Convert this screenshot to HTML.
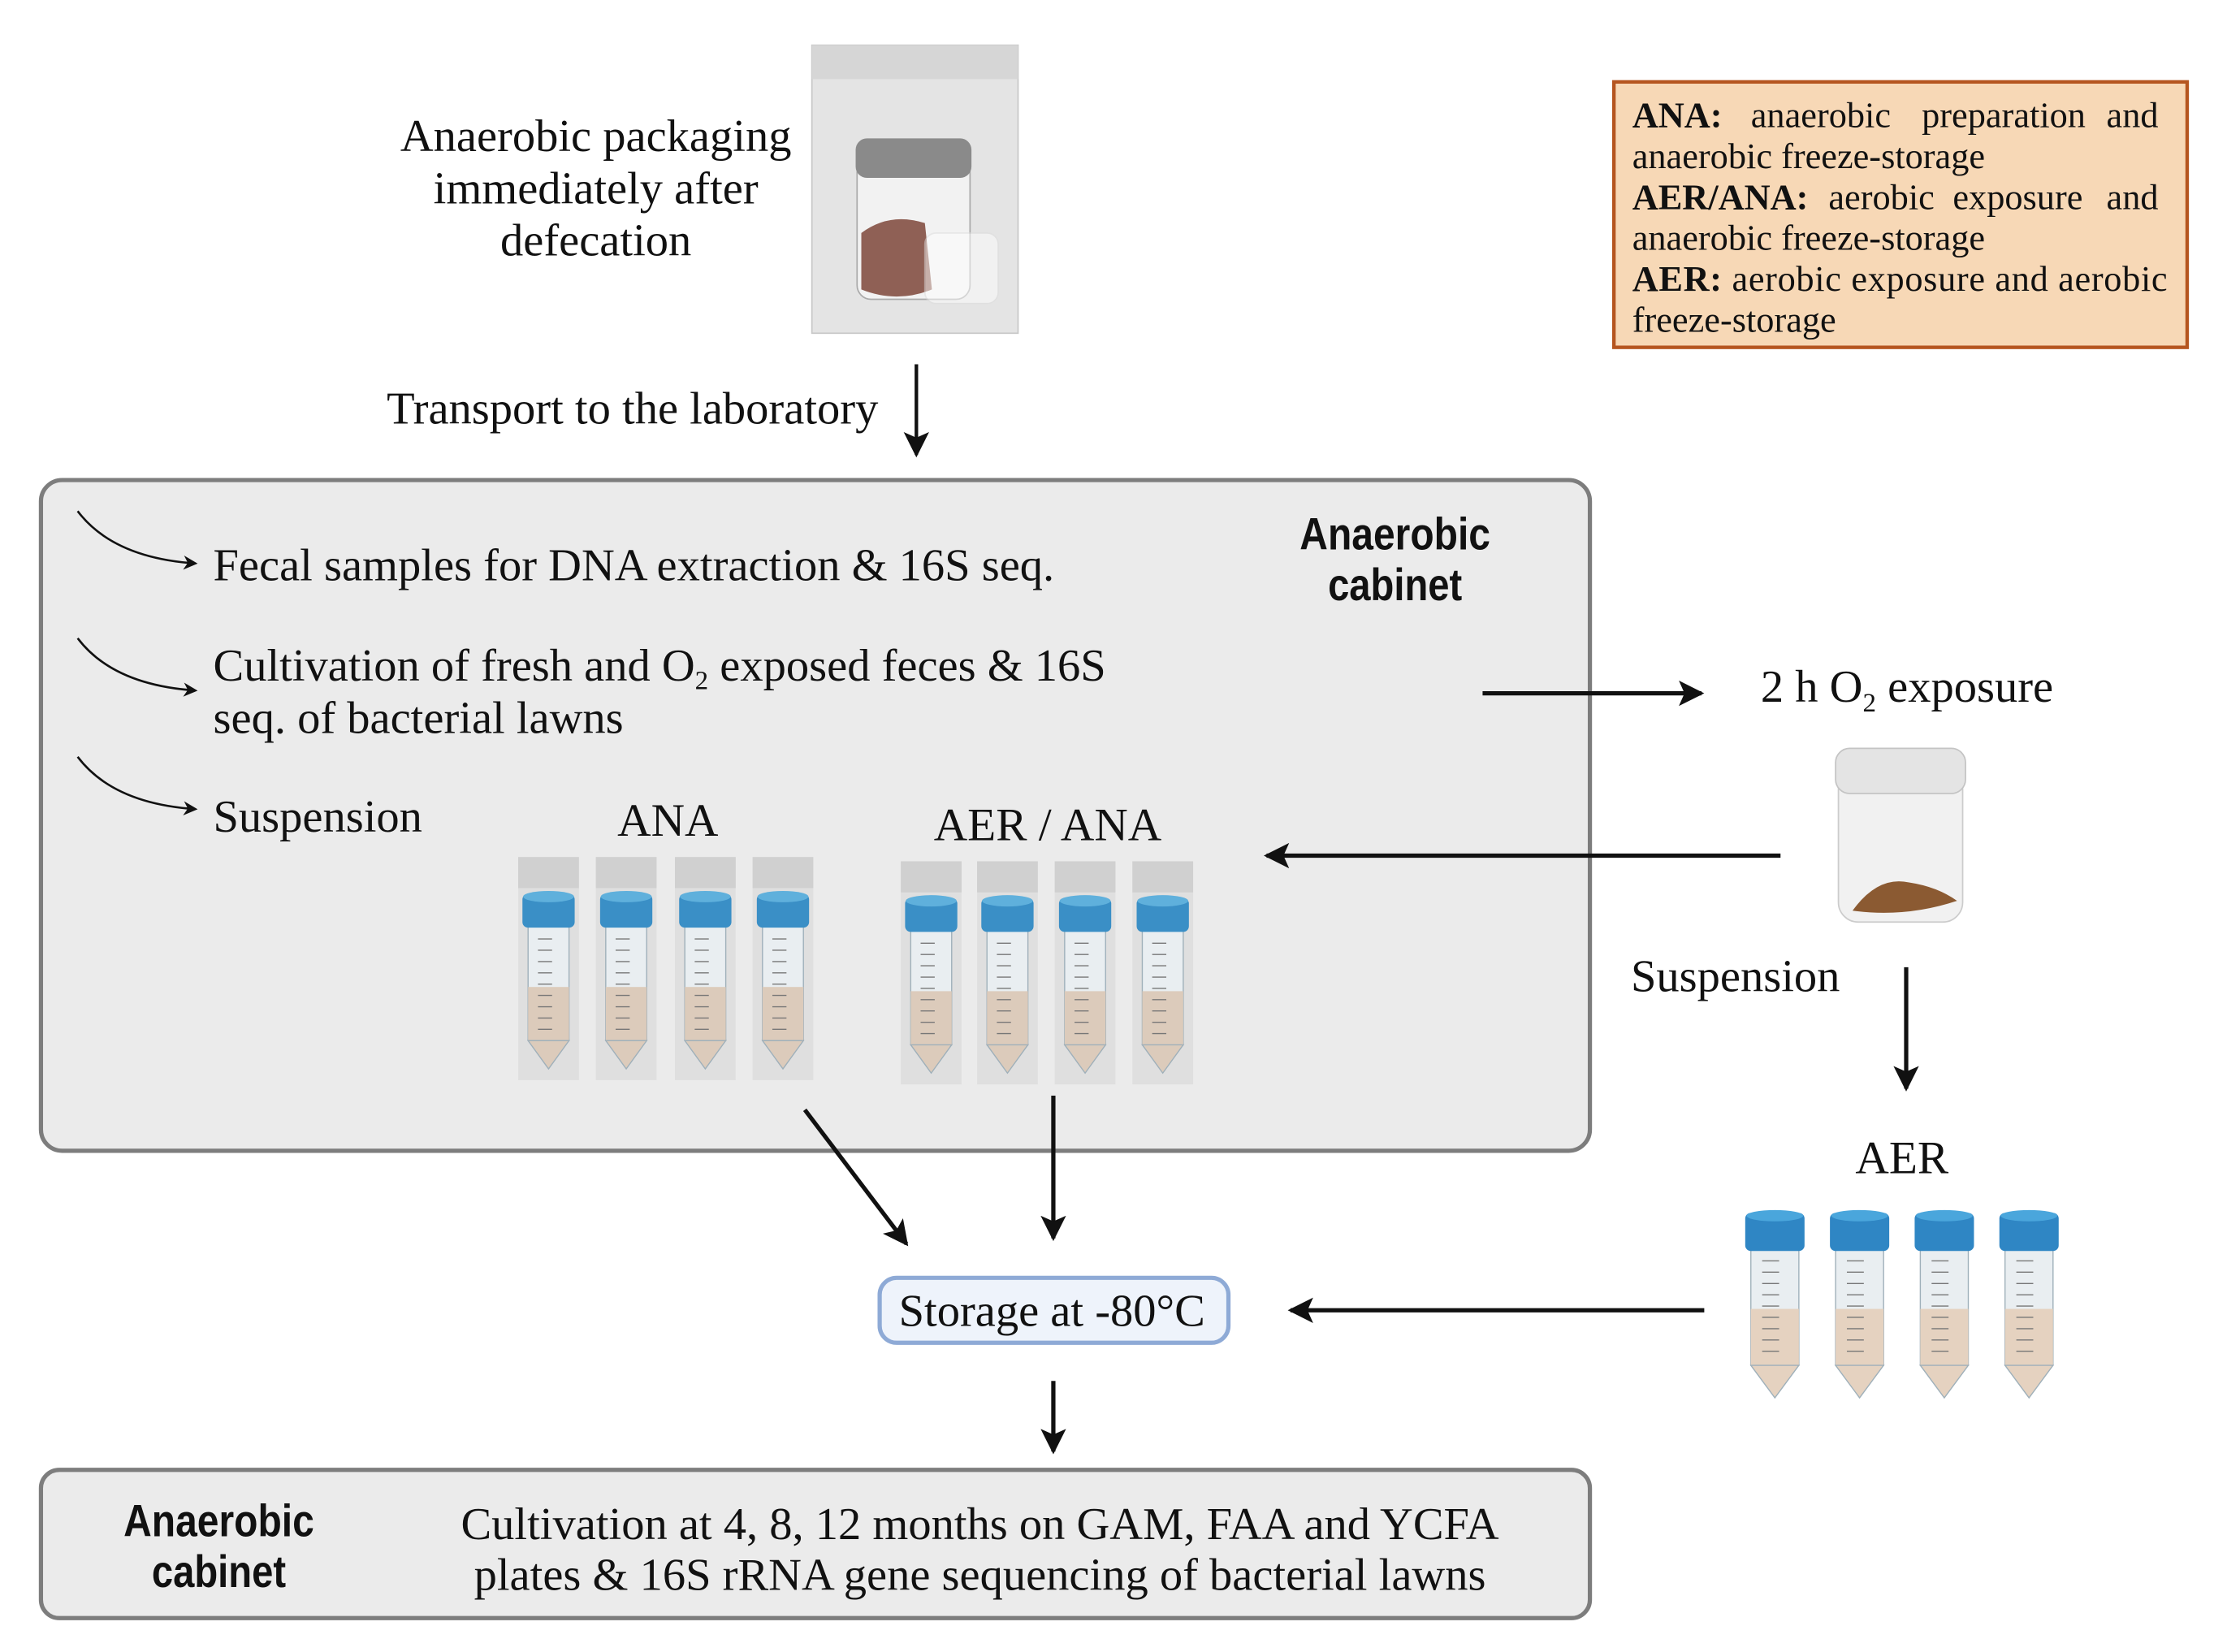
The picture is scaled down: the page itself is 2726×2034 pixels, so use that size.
<!DOCTYPE html>
<html><head><meta charset="utf-8"><style>
html,body{margin:0;padding:0;background:#fff;}
svg{display:block;}
text{font-family:"Liberation Serif",serif;fill:#111;}
.b{font-family:"Liberation Sans",sans-serif;font-weight:bold;}
</style></head><body>
<svg width="2726" height="2034" viewBox="0 0 1568 1170" preserveAspectRatio="none" xmlns="http://www.w3.org/2000/svg">
<defs>
<marker id="ah" markerWidth="10" markerHeight="10" refX="8" refY="5" orient="auto" markerUnits="userSpaceOnUse" viewBox="0 0 10 10">
<path d="M0,0 L10,5 L0,10 L3,5 z" fill="#111"/></marker>
<marker id="ah2" markerWidth="18" markerHeight="18" refX="16" refY="9" orient="auto" markerUnits="userSpaceOnUse" viewBox="0 0 18 18">
<path d="M0,0 L18,9 L0,18 L4,9 z" fill="#111"/></marker>
<g id="tube">
<rect x="0" y="0" width="43" height="158" fill="#dcdcdc" opacity="0.8"/>
<rect x="0" y="0" width="43" height="22" fill="#d0d0d0"/>
<rect x="7" y="48" width="29" height="82" fill="#e9eef1" stroke="#9fb0ba" stroke-width="0.8"/>
<rect x="7" y="92" width="29" height="38" fill="#dccbbb"/>
<path d="M7,130 L21.5,150 L36,130 z" fill="#dccbbb" stroke="#9fb0ba" stroke-width="0.8"/>
<rect x="3" y="26" width="37" height="24" rx="4" fill="#3a8fc6"/>
<ellipse cx="21.5" cy="28" rx="18" ry="4" fill="#5fb0dc"/>
<path d="M14,58h10M14,66h10M14,74h10M14,82h10M14,90h10M14,98h10M14,106h10M14,114h10M14,122h10" stroke="#777" stroke-width="0.8"/>
</g>
<g id="tube2">
<rect x="4" y="26" width="34" height="84" fill="#e9eef1" stroke="#9fb0ba" stroke-width="0.8"/>
<rect x="4" y="70" width="34" height="40" fill="#e5d2c0"/>
<path d="M4,110 L21,133 L38,110 z" fill="#e5d2c0" stroke="#9fb0ba" stroke-width="0.8"/>
<rect x="0" y="2" width="42" height="27" rx="4" fill="#2f86c4"/>
<ellipse cx="21" cy="4" rx="20" ry="4" fill="#4aa6dc"/>
<path d="M12,36h12M12,44h12M12,52h12M12,60h12M12,68h12M12,76h12M12,84h12M12,92h12M12,100h12" stroke="#777" stroke-width="0.8"/>
</g>
</defs>

<!-- bag -->
<rect x="575" y="32" width="146" height="204" fill="#e4e4e4" stroke="#c8c8c8"/>
<rect x="575" y="32" width="146" height="24" fill="#d6d6d6"/>
<rect x="607" y="112" width="80" height="100" rx="10" fill="#f2f2f2" stroke="#aaa"/>
<rect x="606" y="98" width="82" height="28" rx="8" fill="#8a8a8a"/>
<path d="M610,165 Q630,150 655,158 L660,205 Q635,215 610,205 z" fill="#8f6055"/>
<rect x="655" y="165" width="52" height="50" rx="8" fill="#fff" opacity="0.5" stroke="#ddd"/>

<text font-size="32.5" text-anchor="middle"><tspan x="422" y="107">Anaerobic packaging</tspan><tspan x="422" y="144">immediately after</tspan><tspan x="422" y="181">defecation</tspan></text>

<!-- legend -->
<rect x="1143" y="58" width="406" height="188" fill="#f7d8b6" stroke="#b5551f" stroke-width="2.5"/>
<text font-size="25.5">
<tspan x="1156" y="90" font-weight="bold">ANA:</tspan><tspan x="1240" y="90">anaerobic</tspan><tspan x="1361" y="90">preparation</tspan><tspan x="1535" y="90" text-anchor="end">and</tspan>
<tspan x="1156" y="119">anaerobic freeze-storage</tspan>
<tspan x="1156" y="148" font-weight="bold">AER/ANA:</tspan><tspan x="1295" y="148">aerobic</tspan><tspan x="1383" y="148">exposure</tspan><tspan x="1535" y="148" text-anchor="end">and</tspan>
<tspan x="1156" y="177">anaerobic freeze-storage</tspan>
<tspan x="1156" y="206" textLength="379" lengthAdjust="spacing"><tspan font-weight="bold">AER:</tspan> aerobic exposure and aerobic</tspan>
<tspan x="1156" y="235">freeze-storage</tspan>
</text>

<text x="622" y="300" font-size="32.5" text-anchor="end">Transport to the laboratory</text>
<line x1="649" y1="258" x2="649" y2="322" stroke="#111" stroke-width="2.5" marker-end="url(#ah2)"/>

<!-- big box -->
<rect x="29" y="340" width="1097" height="475" rx="15" fill="#ebebeb" stroke="#7d7d7d" stroke-width="3"/>
<path d="M55,362 Q80,395 138,399" fill="none" stroke="#111" stroke-width="1.5" marker-end="url(#ah)"/>
<path d="M55,452 Q80,485 138,489" fill="none" stroke="#111" stroke-width="1.5" marker-end="url(#ah)"/>
<path d="M55,536 Q80,569 138,573" fill="none" stroke="#111" stroke-width="1.5" marker-end="url(#ah)"/>
<text font-size="32.5"><tspan x="151" y="411">Fecal samples for DNA extraction &amp; 16S seq.</tspan>
<tspan x="151" y="482">Cultivation of fresh and O<tspan font-size="19" dy="6">2</tspan><tspan dy="-6"> exposed feces &amp; 16S</tspan></tspan>
<tspan x="151" y="519">seq. of bacterial lawns</tspan>
<tspan x="151" y="589">Suspension</tspan></text>
<text class="b" font-size="32" text-anchor="middle"><tspan x="988" y="389" textLength="135" lengthAdjust="spacingAndGlyphs">Anaerobic</tspan><tspan x="988" y="425" textLength="95" lengthAdjust="spacingAndGlyphs">cabinet</tspan></text>
<text x="473" y="592" font-size="33" text-anchor="middle">ANA</text>
<text x="742" y="595" font-size="33" text-anchor="middle">AER / ANA</text>
<use href="#tube" x="367" y="607"/><use href="#tube" x="422" y="607"/><use href="#tube" x="478" y="607"/><use href="#tube" x="533" y="607"/>
<use href="#tube" x="638" y="610"/><use href="#tube" x="692" y="610"/><use href="#tube" x="747" y="610"/><use href="#tube" x="802" y="610"/>

<line x1="1050" y1="491" x2="1205" y2="491" stroke="#111" stroke-width="3" marker-end="url(#ah2)"/>
<text x="1247" y="497" font-size="32.5">2 h O<tspan font-size="19" dy="7">2</tspan><tspan dy="-7"> exposure</tspan></text>

<!-- jar -->
<rect x="1302" y="545" width="88" height="108" rx="14" fill="#f1f1f1" stroke="#ccc"/>
<rect x="1300" y="530" width="92" height="32" rx="10" fill="#e4e4e4" stroke="#c4c4c4"/>
<path d="M1312,645 Q1330,620 1352,625 Q1372,628 1386,638 Q1350,650 1312,645 z" fill="#8b5a32"/>

<line x1="1261" y1="606" x2="897" y2="606" stroke="#111" stroke-width="3" marker-end="url(#ah2)"/>
<text x="1155" y="702" font-size="32.5">Suspension</text>
<line x1="1350" y1="685" x2="1350" y2="771" stroke="#111" stroke-width="3" marker-end="url(#ah2)"/>
<text x="1347" y="831" font-size="33" text-anchor="middle">AER</text>
<use href="#tube2" x="1236" y="857"/><use href="#tube2" x="1296" y="857"/><use href="#tube2" x="1356" y="857"/><use href="#tube2" x="1416" y="857"/>

<line x1="1207" y1="928" x2="914" y2="928" stroke="#111" stroke-width="3" marker-end="url(#ah2)"/>
<line x1="570" y1="786" x2="642" y2="881" stroke="#111" stroke-width="3" marker-end="url(#ah2)"/>
<line x1="746" y1="776" x2="746" y2="877" stroke="#111" stroke-width="3" marker-end="url(#ah2)"/>

<rect x="623" y="905" width="247" height="46" rx="12" fill="#eef3fb" stroke="#8eaad6" stroke-width="3"/>
<text x="745" y="939" font-size="32.5" text-anchor="middle">Storage at -80°C</text>
<line x1="746" y1="978" x2="746" y2="1028" stroke="#111" stroke-width="3" marker-end="url(#ah2)"/>

<rect x="29" y="1041" width="1097" height="105" rx="13" fill="#ebebeb" stroke="#7d7d7d" stroke-width="3"/>
<text class="b" font-size="32" text-anchor="middle"><tspan x="155" y="1088" textLength="135" lengthAdjust="spacingAndGlyphs">Anaerobic</tspan><tspan x="155" y="1124" textLength="95" lengthAdjust="spacingAndGlyphs">cabinet</tspan></text>
<text font-size="32.5" text-anchor="middle"><tspan x="694" y="1090">Cultivation at 4, 8, 12 months on GAM, FAA and YCFA</tspan><tspan x="694" y="1126">plates &amp; 16S rRNA gene sequencing of bacterial lawns</tspan></text>
</svg>
</body></html>
